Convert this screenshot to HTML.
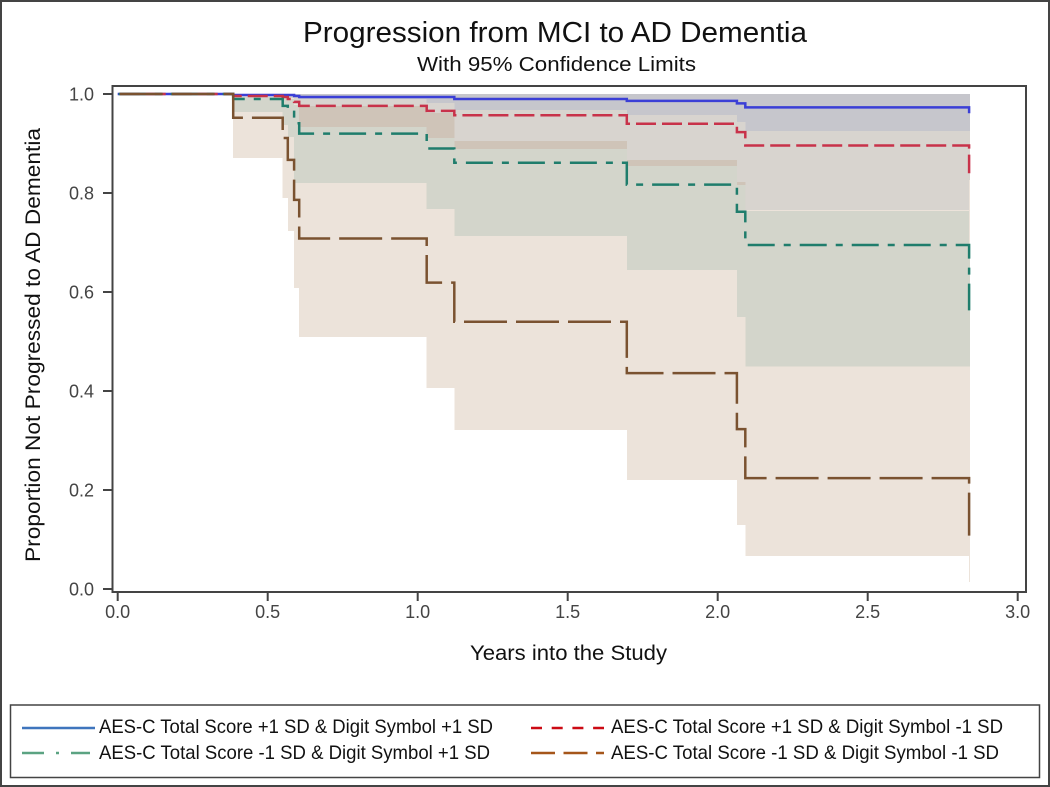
<!DOCTYPE html>
<html lang="en">
<head>
<meta charset="utf-8">
<title>Progression from MCI to AD Dementia</title>
<style>
html,body{margin:0;padding:0;background:#fff;width:1050px;height:787px;overflow:hidden}
svg{display:block}
text{font-family:"Liberation Sans",sans-serif;fill:#111}
</style>
</head>
<body>
<svg id="chart" xmlns="http://www.w3.org/2000/svg" width="1050" height="787" viewBox="0 0 1050 787">
  <rect x="1" y="1" width="1048" height="785" fill="#fff" stroke="#444" stroke-width="2"/>
  <text x="303" y="42" font-size="29" textLength="504" lengthAdjust="spacingAndGlyphs">Progression from MCI to AD Dementia</text>
  <text x="417" y="71" font-size="20" textLength="279" lengthAdjust="spacingAndGlyphs">With 95% Confidence Limits</text>
  <g id="bands" shape-rendering="crispEdges"></g>
  <g id="lines"></g>
  <rect x="112.5" y="86" width="913.5" height="506" fill="none" stroke="#444" stroke-width="2"/>
  <g id="axes"></g>
  <text transform="translate(40,562) rotate(-90)" font-size="21" textLength="434" lengthAdjust="spacingAndGlyphs">Proportion Not Progressed to AD Dementia</text>
  <text x="470" y="660" font-size="21" textLength="197" lengthAdjust="spacingAndGlyphs">Years into the Study</text>

  <g>
    <rect x="10.5" y="705" width="1029" height="72.5" fill="#fff" stroke="#444" stroke-width="1.5"/>
    <line x1="22" x2="95" y1="728" y2="728" stroke="#3f75bd" stroke-width="2.5"/>
    <text x="99" y="733" font-size="19.5" textLength="394" lengthAdjust="spacingAndGlyphs">AES-C Total Score +1 SD &amp; Digit Symbol +1 SD</text>
    <line x1="22" x2="90" y1="753" y2="753" stroke="#5ba382" stroke-width="2.5" stroke-dasharray="22 12 3 12 22"/>
    <text x="99" y="759" font-size="19.5" textLength="391" lengthAdjust="spacingAndGlyphs">AES-C Total Score -1 SD &amp; Digit Symbol +1 SD</text>
    <line x1="531" x2="604" y1="728" y2="728" stroke="#cc0a14" stroke-width="2.5" stroke-dasharray="11 9.7"/>
    <text x="611" y="733" font-size="19.5" textLength="392" lengthAdjust="spacingAndGlyphs">AES-C Total Score +1 SD &amp; Digit Symbol -1 SD</text>
    <line x1="531" x2="604" y1="753" y2="753" stroke="#a5561a" stroke-width="2.5" stroke-dasharray="24 8.5 24 8.5 8"/>
    <text x="611" y="759" font-size="19.5" textLength="388" lengthAdjust="spacingAndGlyphs">AES-C Total Score -1 SD &amp; Digit Symbol -1 SD</text>
  </g>
</svg>
<script>
const times = [0, 0.385, 0.55, 0.567, 0.588, 0.605, 1.03, 1.122, 1.697, 2.064, 2.092, 2.838];
const bandEndTime = 2.841;

const blueLine  = [1, 0.998, 0.998, 0.998, 0.996, 0.994, 0.994, 0.990, 0.986, 0.981, 0.973, 0.961];
const redLine   = [1, 0.996, 0.994, 0.990, 0.984, 0.976, 0.966, 0.957, 0.940, 0.923, 0.896, 0.840];
const tealLine  = [1, 0.990, 0.976, 0.964, 0.941, 0.920, 0.890, 0.861, 0.817, 0.762, 0.695, 0.563];
const brownLine = [1, 0.952, 0.911, 0.867, 0.786, 0.708, 0.619, 0.540, 0.436, 0.323, 0.224, 0.093];

const blueLower  = [0.998, 0.998, 0.996, 0.994, 0.990, 0.982, 0.968, 0.958, 0.943, 0.925, 0.925];
const blueUpper  = [1, 1, 1, 1, 1, 1, 1, 1, 1, 1, 1];
const redLower   = [0.996, 0.994, 0.992, 0.980, 0.933, 0.911, 0.889, 0.855, 0.816, 0.766, 0.826];
const redUpper   = [1, 1, 1, 1, 1, 1, 1, 1, 1, 1, 1];
const tealLower  = [0.964, 0.937, 0.913, 0.820, 0.820, 0.768, 0.713, 0.644, 0.549, 0.450, 0.450];
const tealUpper  = [0.994, 0.992, 0.990, 0.978, 0.976, 0.962, 0.905, 0.867, 0.822, 0.764, 0.695];
const brownLower = [0.871, 0.790, 0.723, 0.608, 0.509, 0.406, 0.321, 0.220, 0.129, 0.067, 0.014];
const brownUpper = [1, 1, 1, 1, 1, 1, 1, 1, 1, 1, 1];

const xTicks = ['0.0', '0.5', '1.0', '1.5', '2.0', '2.5', '3.0'];
const yTicks = ['0.0', '0.2', '0.4', '0.6', '0.8', '1.0'];

const NS = 'http://www.w3.org/2000/svg';
function xPos(t) { return 117.7 + 300 * t; }
function yPos(v) { return 589 - 495 * v; }

function overlapColor(inBlue, inRed, inTeal, inBrown) {
  if (inBlue) return '#c6c6cc';
  if (inRed && inTeal) return '#cfc4b8';
  if (inRed) return '#d8d4cf';
  if (inTeal) return '#d3d5cb';
  if (inBrown) return '#ece3da';
  return null;
}

const bandsGroup = document.getElementById('bands');
for (let c = 0; c < brownLower.length; c++) {
  const t0 = times[c + 1];
  const t1 = c + 2 < times.length ? times[c + 2] : bandEndTime;
  const levels = [blueLower[c], blueUpper[c], redLower[c], redUpper[c], tealLower[c], tealUpper[c], brownLower[c], brownUpper[c]];
  const sorted = Array.from(new Set(levels)).sort(function (a, b) { return a - b; });
  for (let k = 0; k + 1 < sorted.length; k++) {
    const lo = sorted[k];
    const hi = sorted[k + 1];
    const mid = (lo + hi) / 2;
    const fill = overlapColor(
      mid > blueLower[c] && mid < blueUpper[c],
      mid > redLower[c] && mid < redUpper[c],
      mid > tealLower[c] && mid < tealUpper[c],
      mid > brownLower[c] && mid < brownUpper[c]
    );
    if (!fill) continue;
    const r = document.createElementNS(NS, 'rect');
    r.setAttribute('x', xPos(t0));
    r.setAttribute('y', yPos(hi));
    r.setAttribute('width', xPos(t1) - xPos(t0));
    r.setAttribute('height', yPos(lo) - yPos(hi));
    r.setAttribute('fill', fill);
    
    
    bandsGroup.appendChild(r);
  }
}

function stepPath(values) {
  let d = 'M' + xPos(times[0]) + ' ' + yPos(values[0]);
  for (let i = 1; i < times.length; i++) {
    d += ' H' + xPos(times[i]) + ' V' + yPos(values[i]);
  }
  return d;
}

const linesGroup = document.getElementById('lines');
function addLine(values, color, dash, offset, name) {
  const p = document.createElementNS(NS, 'path');
  p.setAttribute('d', stepPath(values));
  p.setAttribute('fill', 'none');
  p.setAttribute('stroke', color);
  p.setAttribute('stroke-width', '2.5');
  if (dash) p.setAttribute('stroke-dasharray', dash);
  if (offset) p.setAttribute('stroke-dashoffset', offset);
  
  
  linesGroup.appendChild(p);
}
addLine(blueLine, '#3b3fd6', '', 0, 'line-high-aes-high-digit');
addLine(redLine, '#c8324a', '20 6', -2, 'line-high-aes-low-digit');
addLine(tealLine, '#1f7d6c', '27 9 7 9', -1, 'line-low-aes-high-digit');
addLine(brownLine, '#7a5230', '43 9', -2, 'line-low-aes-low-digit');

const axesGroup = document.getElementById('axes');
xTicks.forEach(function (label) {
  const x = xPos(parseFloat(label));
  const tick = document.createElementNS(NS, 'line');
  tick.setAttribute('x1', x);
  tick.setAttribute('x2', x);
  tick.setAttribute('y1', 592);
  tick.setAttribute('y2', 601);
  tick.setAttribute('stroke', '#444');
  tick.setAttribute('stroke-width', '2');
  
  
  axesGroup.appendChild(tick);
  const txt = document.createElementNS(NS, 'text');
  txt.setAttribute('x', x);
  txt.setAttribute('y', 618);
  txt.setAttribute('text-anchor', 'middle');
  txt.setAttribute('font-size', '18');
  txt.setAttribute('style', 'fill:#444');
  
  
  txt.textContent = label;
  axesGroup.appendChild(txt);
});
yTicks.forEach(function (label) {
  const y = yPos(parseFloat(label));
  const tick = document.createElementNS(NS, 'line');
  tick.setAttribute('x1', 103);
  tick.setAttribute('x2', 112);
  tick.setAttribute('y1', y);
  tick.setAttribute('y2', y);
  tick.setAttribute('stroke', '#444');
  tick.setAttribute('stroke-width', '2');
  
  
  axesGroup.appendChild(tick);
  const txt = document.createElementNS(NS, 'text');
  txt.setAttribute('x', 94);
  txt.setAttribute('y', y + 6.5);
  txt.setAttribute('text-anchor', 'end');
  txt.setAttribute('font-size', '18');
  txt.setAttribute('style', 'fill:#444');
  
  
  txt.textContent = label;
  axesGroup.appendChild(txt);
});
</script>
</body>
</html>
